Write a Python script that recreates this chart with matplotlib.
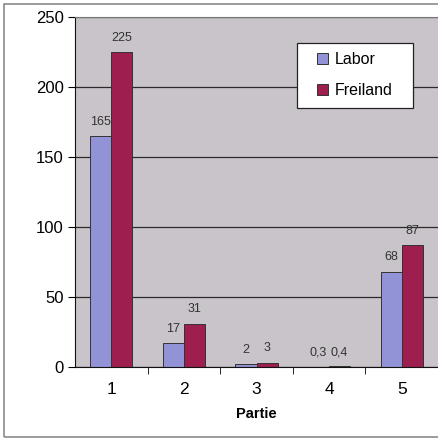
import matplotlib
matplotlib.use("Agg")
import matplotlib.pyplot as plt
import numpy as np
from matplotlib.patches import Rectangle

# Data
PARTIEN = ["1", "2", "3", "4", "5"]
LABOR = [165, 17, 2, 0.3, 68]
FREILAND = [225, 31, 3, 0.4, 87]

LABOR_COLOR = "#9292d6"
FREILAND_COLOR = "#9e1f4f"
BG_COLOR = "#c9c4ca"

plt.rcParams["font.family"] = ["Liberation Sans", "DejaVu Sans"]


def fmt(v):
    # German decimal comma
    s = f"{v:g}"
    return s.replace(".", ",")


fig = plt.figure(figsize=(4.38, 4.41), dpi=100)
fig.patch.set_facecolor("white")

# outer frame of the chart
fig.patches.append(Rectangle((4 / 438, 4 / 441), 1.2, 433 / 441,
                             transform=fig.transFigure, fill=False,
                             edgecolor="#8a8a8a", linewidth=1.2))

ax = fig.add_axes([75 / 438, 1 - 367 / 441, 363 / 438, 350 / 441])
ax.set_facecolor(BG_COLOR)

x = np.arange(1, len(PARTIEN) + 1)
w = 0.29

ax.set_axisbelow(True)
ax.yaxis.grid(True, color="#2a2a2a", linewidth=0.9)

b1 = ax.bar(x - w / 2, LABOR, w, color=LABOR_COLOR, edgecolor="#333333",
            linewidth=0.7, label="Labor")
b2 = ax.bar(x + w / 2, FREILAND, w, color=FREILAND_COLOR, edgecolor="#333333",
            linewidth=0.7, label="Freiland")

for bars, vals in [(b1, LABOR), (b2, FREILAND)]:
    for rect, v in zip(bars, vals):
        ax.annotate(fmt(v), (rect.get_x() + rect.get_width() / 2, v),
                    xytext=(0, 6), textcoords="offset points",
                    ha="center", va="bottom", fontsize=9, color="#333333")

ax.set_xlim(0.5, 5.5)
ax.set_ylim(0, 250)
ax.set_yticks([0, 50, 100, 150, 200, 250])
ax.set_xticks(x)
ax.set_xticklabels(PARTIEN)
ax.set_xticks(np.arange(1.5, 5.5, 1), minor=True)
ax.tick_params(axis="x", which="major", length=0, pad=11, labelsize=12.5)
ax.tick_params(axis="x", which="minor", length=5, direction="out")
ax.tick_params(axis="y", length=5, direction="out", labelsize=12, pad=3)

ax.spines["left"].set_color("#111111")
ax.spines["bottom"].set_color("#111111")
ax.spines["top"].set_color("#777777")
ax.spines["right"].set_visible(False)

ax.set_xlabel("Partie", fontsize=10.5, fontweight="bold", labelpad=7)

# legend box drawn by hand, entries from the legend
box = Rectangle((297 / 438, 1 - 108 / 441), 116 / 438, 65 / 441,
                transform=fig.transFigure, facecolor="white",
                edgecolor="#222222", linewidth=0.9, zorder=5, clip_on=False)
ax.add_artist(box)
leg = ax.legend(loc="upper left", bbox_to_anchor=(317 / 438, 1 - 52 / 441),
                bbox_transform=fig.transFigure, frameon=False,
                fontsize=11.5, handlelength=0.7, handleheight=0.7,
                handletextpad=0.4, borderpad=0, labelspacing=1.0,
                borderaxespad=0)
leg.set_zorder(6)

plt.savefig("out.png", dpi=100)
plt.close()
